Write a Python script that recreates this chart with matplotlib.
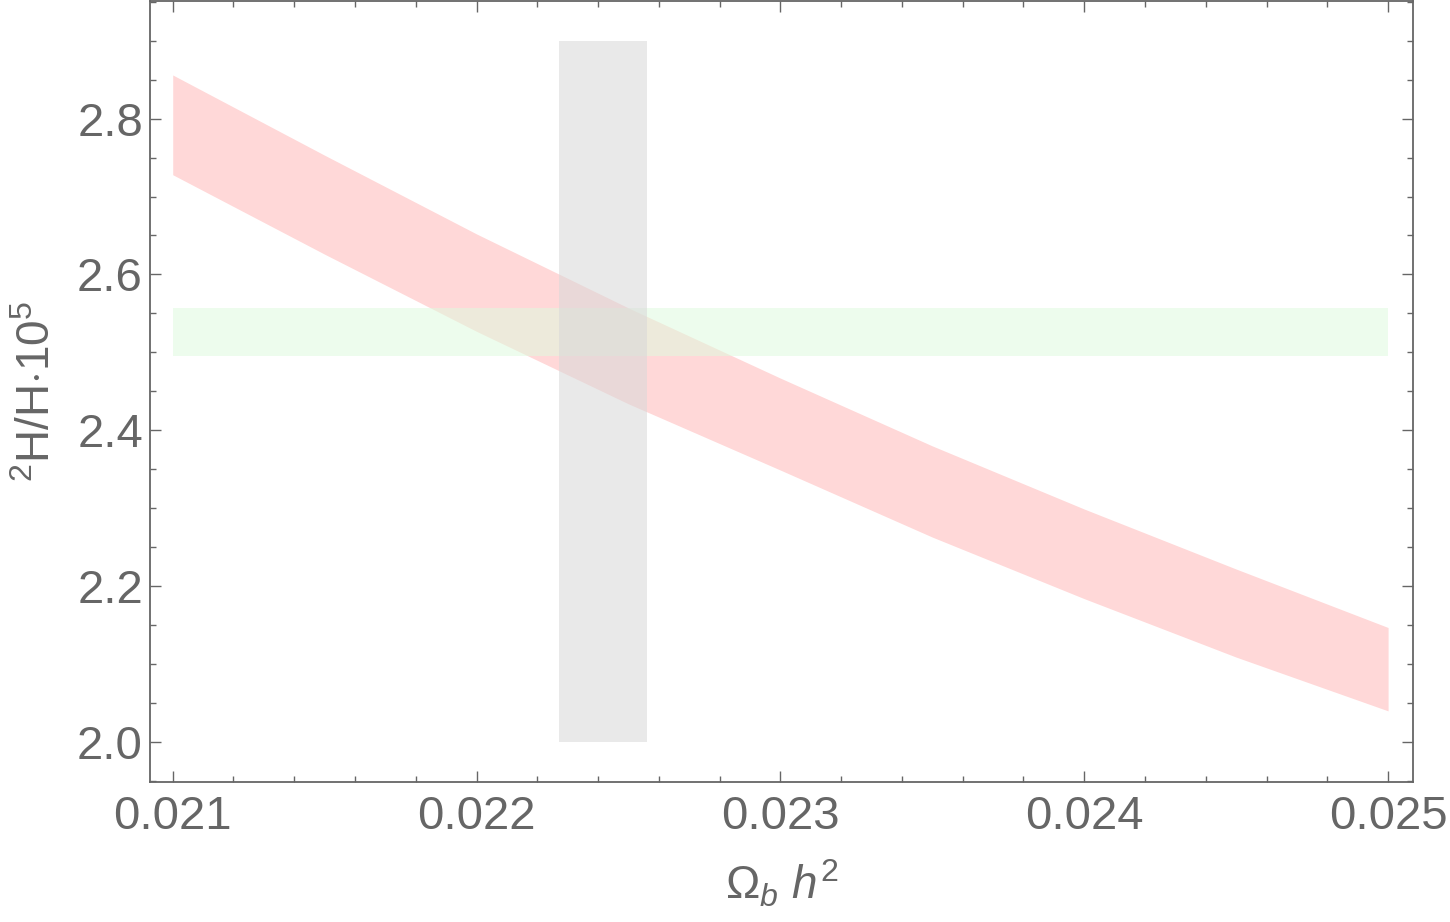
import matplotlib
matplotlib.use('Agg')
import matplotlib.pyplot as plt
from matplotlib.ticker import MultipleLocator, FormatStrFormatter

plt.rcParams['font.family'] = ['Liberation Sans', 'DejaVu Sans']
plt.rcParams['mathtext.fontset'] = 'custom'
plt.rcParams['mathtext.rm'] = 'Liberation Sans'
plt.rcParams['mathtext.it'] = 'Liberation Sans:italic'

# red band: deuterium abundance vs baryon density
omega_b = [0.021, 0.0215, 0.022, 0.0225, 0.023, 0.0235, 0.024, 0.0245, 0.025]
dh_upper = [2.856, 2.753, 2.652, 2.557, 2.467, 2.380, 2.299, 2.222, 2.147]
dh_lower = [2.728, 2.626, 2.527, 2.434, 2.349, 2.263, 2.184, 2.109, 2.040]

# grey band: CMB baryon density
cmb_x = [0.02227, 0.02256]
cmb_y = [2.0, 2.9]

# green band: observed D/H
obs_x = [0.021, 0.025]
obs_y = [2.495, 2.557]

grey = '#666666'

fig = plt.figure(figsize=(14.5, 9.22), dpi=100)
ax = fig.add_axes([0.1034, 0.1518, 0.8711, 0.8472])

ax.fill_between(omega_b, dh_lower, dh_upper, color='#FFD8D8', lw=0)
ax.fill_between(obs_x, obs_y[0], obs_y[1], color='#DEFBDE', alpha=0.54, lw=0)
ax.fill_between(cmb_x, cmb_y[0], cmb_y[1], color='#D8D8D8', alpha=0.56, lw=0)

ax.set_xlim(0.020925, 0.025082)
ax.set_ylim(1.9487, 2.951)

ax.xaxis.set_major_locator(MultipleLocator(0.001))
ax.xaxis.set_minor_locator(MultipleLocator(0.0002))
ax.yaxis.set_major_locator(MultipleLocator(0.2))
ax.yaxis.set_minor_locator(MultipleLocator(0.05))
ax.xaxis.set_major_formatter(FormatStrFormatter('%.3f'))
ax.yaxis.set_major_formatter(FormatStrFormatter('%.1f'))

ax.tick_params(which='both', direction='in', top=True, right=True, color=grey,
               labelcolor=grey, labelsize=34, width=1.0)
ax.tick_params(which='major', length=8, pad=5)
ax.tick_params(which='minor', length=4.5)
ax.tick_params(axis='x', which='major', pad=9)
for s in ax.spines.values():
    s.set_color(grey)
    s.set_linewidth(1.3)

ax.set_xlabel(r'$\Omega_b\ h^2$', fontsize=33, color=grey, labelpad=14)
ax.set_ylabel(r'$^2$H/H$\cdot$10$^5$', fontsize=33, color=grey, labelpad=12)

fig.savefig('out.png', dpi=100)
